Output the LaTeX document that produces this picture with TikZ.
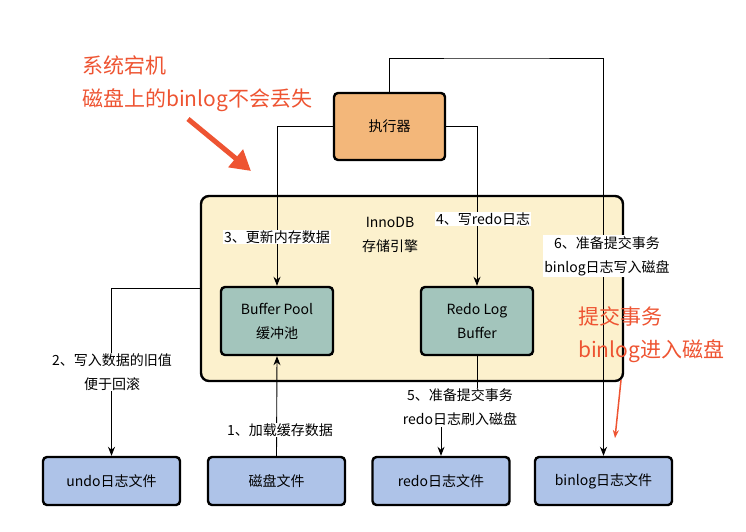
\documentclass[tikz,border=0pt]{standalone}
\usepackage{fontspec}
\setmainfont{Noto Sans CJK SC}
\usetikzlibrary{arrows.meta}
\definecolor{execfill}{RGB}{243,183,122}
\definecolor{innofill}{RGB}{252,241,205}
\definecolor{tealfill}{RGB}{163,197,188}
\definecolor{bluefill}{RGB}{174,195,232}
\definecolor{annred}{RGB}{238,84,50}
\tikzset{
  box/.style={draw=black, line width=2.4pt, rounded corners=4pt, align=center, font=\fontsize{14}{24}\selectfont, inner sep=0pt},
  execbox/.style={box, fill=execfill, minimum width=111pt, minimum height=67pt},
  membox/.style={box, fill=tealfill, minimum width=112pt, minimum height=68pt},
  filebox/.style={box, fill=bluefill, minimum width=137pt, minimum height=48pt},
  arr/.style={-{Stealth[length=9pt,width=7pt]}, line width=0.9pt},
  lbl/.style={fill=white, align=center, font=\fontsize{14}{24}\selectfont, inner sep=1pt},
  redtxt/.style={text=annred, align=left, font=\fontsize{21}{33}\selectfont, inner sep=0pt}
}
\begin{document}
\begin{tikzpicture}[x=1pt,y=-1pt]
\useasboundingbox (0,0) rectangle (746,531);
% InnoDB container
\node[draw=black, line width=2.4pt, rounded corners=8pt, fill=innofill, minimum width=422pt, minimum height=185pt, inner sep=0pt] (innodb) at (412,288.5) {};
\node[align=center, font=\fontsize{14}{24}\selectfont] (innolbl) at (390,235) {InnoDB\\存储引擎};
% boxes
\node[execbox] (exec) at (389.5,126.5) {执行器};
\node[membox] (bp) at (277,321) {Buffer Pool\\缓冲池};
\node[membox] (rlb) at (477,321) {Redo Log\\Buffer};
\node[filebox] (undo) at (111.5,481) {undo日志文件};
\node[filebox] (disk) at (276.5,481) {磁盘文件};
\node[filebox] (redo) at (441,481) {redo日志文件};
\node[filebox] (binlog) at (603.5,481) {binlog日志文件};
% connector helpers
\coordinate (topc) at (497,58);
\coordinate (rbend) at (460,405);
% connectors
\draw[arr] (exec.north) |- (topc) -| (binlog.north);
\draw[arr] (exec.west) -| (bp.north);
\draw[arr] (exec.east) -| (rlb.north);
\draw[arr] (innodb.west) -| (undo.north);
\draw[arr] (disk.north) -- (bp.south);
\draw[arr] (rlb.south) |- (rbend) -| (redo.north);
% labels
\node[lbl] (l3) at (277,237) {3、更新内存数据};
\node[lbl] (l4) at (483,219) {4、写redo日志};
\node[lbl] (l6) at (607,256) {6、准备提交事务\\binlog日志写入磁盘};
\node[lbl] (l2) at (112,372) {2、写入数据的旧值\\便于回滚};
\node[lbl] (l1) at (280,430) {1、加载缓存数据};
\node[lbl] (l5) at (460,407) {5、准备提交事务\\redo日志刷入磁盘};
% annotations
\node[redtxt, anchor=west] (ann1) at (82,84) {系统宕机\\磁盘上的binlog不会丢失};
\node[redtxt, anchor=west] (ann2) at (578,335) {提交事务\\binlog进入磁盘};
\coordinate (a1s) at (188,119);
\coordinate (a1e) at (251,171);
\draw[annred, line width=5pt, -{Triangle[length=20pt,width=22pt]}] (a1s) -- (a1e);
\coordinate (a2s) at (621,380);
\coordinate (a2e) at (615,438);
\draw[annred, line width=1.5pt, -{Stealth[length=8pt,width=6pt]}] (a2s) -- (a2e);
\end{tikzpicture}
\end{document}
